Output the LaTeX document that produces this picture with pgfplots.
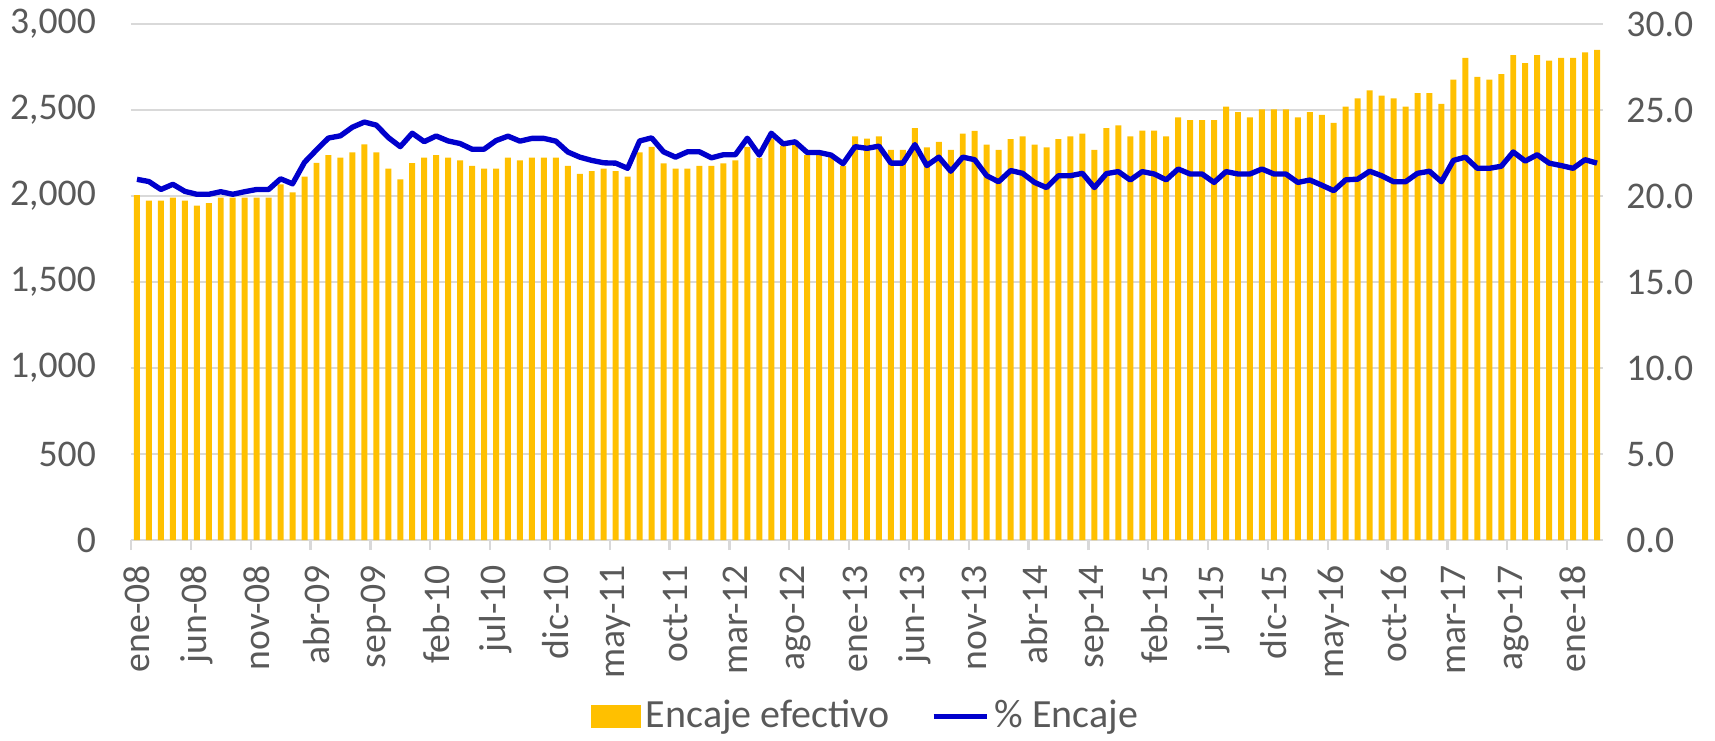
\documentclass[border=0pt]{standalone}
\usepackage{fontspec}
\setmainfont{Carlito}
\usepackage{pgfplots}
\usepackage{pgfplotstable}
\pgfplotsset{compat=1.18}

\definecolor{barcol}{HTML}{FFC000}
\definecolor{linecol}{HTML}{0000CC}
\definecolor{gridgray}{HTML}{D9D9D9}
\definecolor{labgray}{HTML}{595959}

% mes (0 = ene-08), encaje efectivo, % encaje
\pgfplotstableread{
x enc pct
0 2005 20.97
1 1973 20.84
2 1973 20.38
3 1990 20.68
4 1973 20.27
5 1944 20.10
6 1958 20.10
7 1990 20.25
8 1990 20.10
9 1990 20.25
10 1990 20.38
11 1990 20.38
12 2067 21.00
13 2021 20.71
14 2113 21.96
15 2192 22.68
16 2237 23.37
17 2223 23.50
18 2253 24.00
19 2300 24.30
20 2254 24.12
21 2159 23.40
22 2096 22.87
23 2191 23.65
24 2223 23.16
25 2237 23.49
26 2223 23.20
27 2207 23.05
28 2175 22.72
29 2159 22.72
30 2159 23.22
31 2223 23.48
32 2207 23.19
33 2223 23.35
34 2223 23.35
35 2223 23.19
36 2175 22.56
37 2128 22.26
38 2144 22.07
39 2159 21.93
40 2144 21.91
41 2113 21.61
42 2253 23.20
43 2285 23.38
44 2190 22.57
45 2159 22.26
46 2159 22.57
47 2175 22.57
48 2175 22.22
49 2190 22.40
50 2207 22.40
51 2285 23.36
52 2222 22.38
53 2335 23.65
54 2293 23.03
55 2301 23.15
56 2238 22.53
57 2238 22.53
58 2230 22.38
59 2175 21.88
60 2347 22.87
61 2333 22.77
62 2347 22.90
63 2268 21.91
64 2268 21.91
65 2394 22.99
66 2283 21.77
67 2315 22.26
68 2268 21.44
69 2362 22.26
70 2378 22.11
71 2299 21.18
72 2268 20.83
73 2331 21.48
74 2346 21.32
75 2299 20.79
76 2283 20.49
77 2331 21.18
78 2346 21.18
79 2362 21.32
80 2268 20.49
81 2394 21.30
82 2410 21.42
83 2347 20.93
84 2380 21.42
85 2380 21.28
86 2347 20.94
87 2457 21.57
88 2441 21.28
89 2441 21.28
90 2441 20.79
91 2520 21.42
92 2488 21.28
93 2457 21.28
94 2504 21.57
95 2504 21.28
96 2504 21.28
97 2457 20.79
98 2488 20.93
99 2472 20.63
100 2425 20.31
101 2520 20.94
102 2567 20.98
103 2614 21.44
104 2583 21.18
105 2567 20.83
106 2520 20.83
107 2598 21.32
108 2598 21.44
109 2535 20.83
110 2677 22.07
111 2803 22.26
112 2693 21.61
113 2677 21.61
114 2709 21.73
115 2819 22.56
116 2772 22.03
117 2819 22.40
118 2787 21.91
119 2803 21.77
120 2803 21.61
121 2835 22.11
122 2850 21.91
}\datos

\pgfplotsset{
  base/.style={
    width=441.6pt, height=154.8pt, scale only axis,
    xmin=-0.5, xmax=122.5,
    tick label style={color=labgray, font=\fontsize{11.3}{13}\selectfont},
    major tick length=0pt,
    scaled y ticks=false,
    /pgf/number format/assume math mode=true,
  },
}

\begin{document}
\begin{tikzpicture}
\useasboundingbox (-39.3pt,-60.3pt) rectangle (475.2pt,162pt);
\begin{axis}[
    base,
    ymin=0, ymax=3000,
    ytick={0,500,...,3000},
    /pgf/number format/fixed,
    /pgf/number format/1000 sep={,},
    yticklabel style={xshift=-7pt},
    ymajorgrids, grid style={draw=gridgray, line width=0.7pt},
    axis y line*=left, y axis line style={draw=none},
    axis x line*=bottom, x axis line style={draw=gridgray, line width=0.8pt, -},
    xtick={0,5,...,120},
    xticklabels={ene-08,jun-08,nov-08,abr-09,sep-09,feb-10,jul-10,dic-10,may-11,oct-11,mar-12,ago-12,ene-13,jun-13,nov-13,abr-14,sep-14,feb-15,jul-15,dic-15,may-16,oct-16,mar-17,ago-17,ene-18},
    xticklabel style={rotate=90, anchor=east, xshift=-4pt},
    minor xtick={-0.5,4.5,...,119.5},
    minor tick length=3pt, tick align=outside,
    minor tick style={draw=gridgray, line width=0.7pt},
    legend style={at={(0.5,-0.342)}, anchor=center, draw=none, fill=none,
      legend columns=2, font=\fontsize{12}{14}\selectfont, text=labgray,
      inner sep=0pt, nodes={inner sep=1.5pt},
      /tikz/every even column/.append style={column sep=11pt}},
  ]
  \addplot[ybar, bar width=0.5, fill=barcol, draw=none,
    legend image code/.code={\fill[barcol] (0pt,-3.4pt) rectangle (15pt,3.4pt);}]
    table[x=x, y=enc] {\datos};
  \addlegendentry{Encaje efectivo}
  \addlegendimage{linecol, line width=1.6pt,
    legend image code/.code={\draw[linecol, line width=1.6pt] (0pt,0pt) -- (16pt,0pt);}}
  \addlegendentry{\% Encaje}
\end{axis}
\begin{axis}[
    base,
    ymin=0, ymax=30,
    ytick={0,5,...,30},
    /pgf/number format/fixed,
    /pgf/number format/fixed zerofill,
    /pgf/number format/precision=1,
    yticklabel style={xshift=3.5pt},
    axis y line*=right, y axis line style={draw=none},
    hide x axis,
  ]
  \addplot[linecol, line width=1.6pt, line join=round] table[x=x, y=pct] {\datos};
\end{axis}
\end{tikzpicture}
\end{document}
